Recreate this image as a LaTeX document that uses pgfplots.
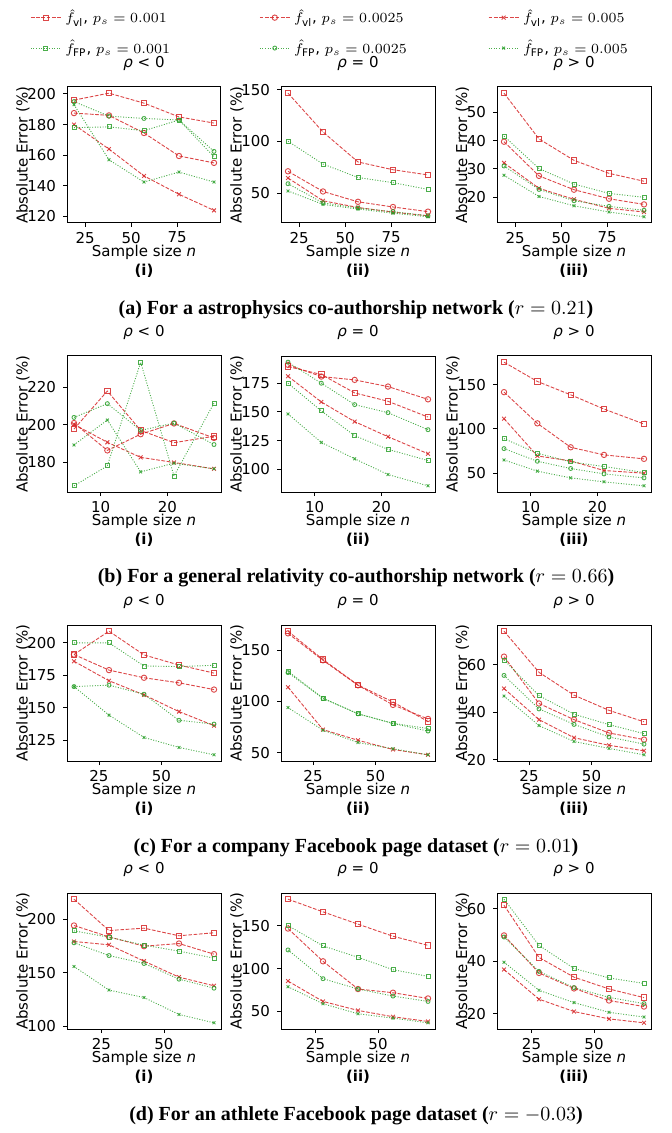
\documentclass[border=0pt]{standalone}
\usepackage{fontspec}
\setmainfont{DejaVu Sans}
\newfontfamily\capfont{Liberation Serif}
\usepackage{pgfplots}
\usepackage{pgfplotstable}
\pgfplotsset{compat=1.18}

\definecolor{vlred}{HTML}{D62728}
\definecolor{fpgreen}{HTML}{2CA02C}
\newcommand\plotfont{\fontsize{7.5}{9}\selectfont}
\newcommand\capsize{\fontsize{10}{12}\selectfont}

% columns: n, f_vl for p_s = 0.001 / 0.0025 / 0.005, then f_FP for the same
\pgfplotstableread{
n  vlA   vlB   vlC   fpA   fpB   fpC
19 196   187.5 180   178   195   193
38 200.5 186   164   178.5 185.5 157
57 194   174.5 146.5 176   184   142.5
76 185   159.5 134.5 183   183   149
95 181   155   124   159   162.5 142.5
}\astroNeg
\pgfplotstableread{
n  vlA   vlB  vlC  fpA  fpB  fpC
19 146.5 71   64.5 100  59   52
38 109   51.5 42.5 78   40.5 39
57 80    41.5 36   65   35.5 34.5
76 72.5  36.5 31.5 60   32   30.5
95 67.5  32   28   53.5 28   27
}\astroZero
\pgfplotstableread{
n  vlA  vlB  vlC  fpA  fpB  fpC
19 56.8 39.6 32.1 41.6 31   27.7
38 40.6 27.5 23.1 30.1 22.7 20.2
57 33   22.6 19.2 24.6 18.7 16.9
76 28.4 19.4 16   21.3 16.7 14.7
95 25.6 17.4 14.7 19.9 15.3 13
}\astroPos
\pgfplotstableread{
n  vlA   vlB   vlC   fpA   fpB   fpC
6  197.7 200.9 200.2 167.6 203.9 189.3
11 217.9 186.4 190.7 178.2 211.2 202.5
16 197   195   182.7 233.2 197   175
21 190.5 200.7 180   172.8 200.9 179.6
27 193.9 193   176.6 211.5 189.5 176.6
}\grNeg
\pgfplotstableread{
n  vlA   vlB   vlC   fpA   fpB   fpC
6  189.5 191   181.1 175   193.3 148.3
11 182.6 180.8 158.7 150.9 175   123.5
16 166.6 177.9 141.6 129.4 156.4 109.3
21 159.3 172.1 128.5 117.5 149.4 95.6
27 145.6 161   113.7 107.8 134.6 85.8
}\grZero
\pgfplotstableread{
n  vlA   vlB   vlC   fpA  fpB  fpC
6  175.6 141.7 111.7 89.1 77.8 65
11 153.8 106.4 69.5  72.6 63.5 52.3
16 138.7 79.3  63.9  62.8 55.3 44.7
21 122.6 70.7  53    57.5 49.2 40.2
27 105.6 66.2  50    50.8 44.7 35.7
}\grPos
\pgfplotstableread{
n  vlA   vlB   vlC   fpA   fpB   fpC
15 191   191   185.8 200   166.3 166.3
29 209   179   170.8 200   167.4 144.3
43 190.7 173.1 159.9 182.2 160.4 127.1
57 182.9 169.2 147   181.7 140.3 119.4
71 176.7 164   136.2 182.7 137.4 113.7
}\compNeg
\pgfplotstableread{
n  vlA   vlB   vlC  fpA   fpB   fpC
15 168.6 166.5 114  129.5 128.2 94.1
29 140.9 140.2 72.6 103.3 103   72
43 116.1 115.8 62.2 88    88    60
57 99.5  96.7  53.2 78.8  78.5  53.9
71 80.5  83    48   73.6  71.2  48
}\compZero
\pgfplotstableread{
n  vlA  vlB  vlC  fpA  fpB  fpC
15 74.1 63.4 50   62   55.5 46.8
29 56.8 43.7 36.9 47   41.4 34.4
43 47.2 36.9 29.3 39.2 34.9 27.7
57 40.8 31.3 26.1 34.8 29.6 24.8
71 36   28.5 23.8 31   26.6 22.1
}\compPos
\pgfplotstableread{
n  vlA   vlB   vlC   fpA   fpB   fpC
14 218.6 194.1 179.2 189.1 178   155.9
28 189.4 183.5 176.1 183.2 166.1 133.9
42 191.6 174.8 160.9 175.8 158.7 127
56 184.5 177.3 146   170.2 144.1 111.2
70 187.3 167.4 137.9 163.7 135.7 103.4
}\athNeg
\pgfplotstableread{
n  vlA   vlB   vlC  fpA   fpB   fpC
14 181.2 146.9 85.5 150.4 121.9 78.9
28 166.4 108.6 61.7 126.6 88.3  59
42 152   76.2  51.2 113.3 76.2  47.3
56 137.9 71.9  43.8 98.8  68    42.2
70 127.3 65.2  38.3 91    61.7  36.7
}\athZero
\pgfplotstableread{
n  vlA  vlB  vlC  fpA  fpB  fpC
14 61.3 49.8 36.8 63.6 49.2 39.6
28 41.4 35.5 25.5 46   36.1 28.9
42 33.9 29.6 20.8 37.2 29.9 24.2
56 29.4 25   18   33.6 26.2 20.5
70 26.1 22.7 16.5 31.5 23.8 18.7
}\athPos

\pgfplotsset{
  panel/.style={
    scale only axis, width=77pt, height=68pt, anchor=north west,
    enlargelimits=0.05, clip=false,
    axis line style={line width=0.5pt},
    tick align=outside, tick pos=left,
    major tick length=2pt,
    tick style={black, line width=0.5pt},
    tick label style={font=\plotfont},
    xticklabel style={yshift=1pt},
    label style={font=\plotfont},
    title style={font=\plotfont, yshift=-1.5pt},
    /pgf/number format/assume math mode=true,
    xlabel={Sample size \textit{n}},
    ylabel={Absolute Error (\%)},
    xlabel style={yshift=6pt},
    ylabel style={yshift=-8pt},
  },
  vl/.style={vlred, line width=0.45pt, dash pattern=on 1.85pt off 0.8pt,
    mark options={solid, line width=0.45pt}, mark size=1.35pt, opacity=0.85},
  fp/.style={fpgreen, line width=0.45pt, dash pattern=on 0.5pt off 0.8pt,
    mark options={solid, line width=0.45pt}, mark size=1pt, opacity=0.85},
}

\newcommand\sixplots[1]{%
  \addplot[vl, mark=square] table[x=n, y=vlA] {#1};
  \addplot[vl, mark=o]      table[x=n, y=vlB] {#1};
  \addplot[vl, mark=x]      table[x=n, y=vlC] {#1};
  \addplot[fp, mark=square] table[x=n, y=fpA] {#1};
  \addplot[fp, mark=o]      table[x=n, y=fpB] {#1};
  \addplot[fp, mark=x]      table[x=n, y=fpC] {#1};
}

% #1 x, #2 y, #3 table, #4 title, #5 xticks, #6 yticks, #7 sub label, #8 extra
\newcommand\panel[8]{%
  \begin{axis}[panel, at={(#1,#2)}, title={#4}, xtick={#5}, ytick={#6}, #8]
    \sixplots{#3}
    \node[font=\plotfont\bfseries, yshift=-24pt] at (rel axis cs:0.5,0) {#7};
  \end{axis}}

\newcommand\lent[1]{\makebox[95pt][l]{#1}}

\begin{document}
\begin{tikzpicture}
\path[use as bounding box] (0,0) rectangle (336pt,-566.5pt);

% (a) astrophysics
\panel{33.5pt}{-43.5pt}{\astroNeg}{\textit{ρ} < 0}{25,50,75}{120,140,...,200}{(i)}{
  ymin=119.8,
  legend columns=3,
  legend style={at={(rel axis cs:-0.279,1.632)}, anchor=north west, draw=none,
    fill=none, font=\plotfont, row sep=3pt},
  legend cell align=left,
  legend image code/.code={
    \draw[mark=none] (0pt,0pt) -- (15pt,0pt);
    \draw plot coordinates {(7.5pt,0pt)};},
  legend entries={
    {\lent{$\hat{f}_{\mathrm{vl}}$, $p_s = 0.001$}},
    {\lent{$\hat{f}_{\mathrm{vl}}$, $p_s = 0.0025$}},
    {\lent{$\hat{f}_{\mathrm{vl}}$, $p_s = 0.005$}},
    {\lent{$\hat{f}_{\mathrm{FP}}$, $p_s = 0.001$}},
    {\lent{$\hat{f}_{\mathrm{FP}}$, $p_s = 0.0025$}},
    {\lent{$\hat{f}_{\mathrm{FP}}$, $p_s = 0.005$}}}}
\panel{140.5pt}{-43.5pt}{\astroZero}{\textit{ρ} = 0}{25,50,75}{50,100,150}{(ii)}{}
\panel{248.5pt}{-43.5pt}{\astroPos}{\textit{ρ} > 0}{25,50,75}{20,30,40,50}{(iii)}{}
\node[font=\capfont\capsize\bfseries] at (178pt,-155pt)
  {(a) For a astrophysics co-authorship network ($r = 0.21$)};

% (b) general relativity
\panel{33.5pt}{-178pt}{\grNeg}{\textit{ρ} < 0}{10,20}{180,200,220}{(i)}{}
\panel{140.5pt}{-178pt}{\grZero}{\textit{ρ} = 0}{10,20}{100,125,150,175}{(ii)}{}
\panel{248.5pt}{-178pt}{\grPos}{\textit{ρ} > 0}{10,20}{50,100,150}{(iii)}{}
\node[font=\capfont\capsize\bfseries] at (178pt,-289pt)
  {(b) For a general relativity co-authorship network ($r = 0.66$)};

% (c) company page
\panel{33.5pt}{-312.5pt}{\compNeg}{\textit{ρ} < 0}{25,50}{125,150,175,200}{(i)}{}
\panel{140.5pt}{-312.5pt}{\compZero}{\textit{ρ} = 0}{25,50}{50,100,150}{(ii)}{}
\panel{248.5pt}{-312.5pt}{\compPos}{\textit{ρ} > 0}{25,50}{20,40,60}{(iii)}{}
\node[font=\capfont\capsize\bfseries] at (178pt,-424pt)
  {(c) For a company Facebook page dataset ($r = 0.01$)};

% (d) athlete page
\panel{33.5pt}{-446.5pt}{\athNeg}{\textit{ρ} < 0}{25,50}{100,150,200}{(i)}{}
\panel{140.5pt}{-446.5pt}{\athZero}{\textit{ρ} = 0}{25,50}{50,100,150}{(ii)}{}
\panel{248.5pt}{-446.5pt}{\athPos}{\textit{ρ} > 0}{25,50}{20,40,60}{(iii)}{}
\node[font=\capfont\capsize\bfseries] at (178pt,-558pt)
  {(d) For an athlete Facebook page dataset ($r = -0.03$)};
\end{tikzpicture}
\end{document}
